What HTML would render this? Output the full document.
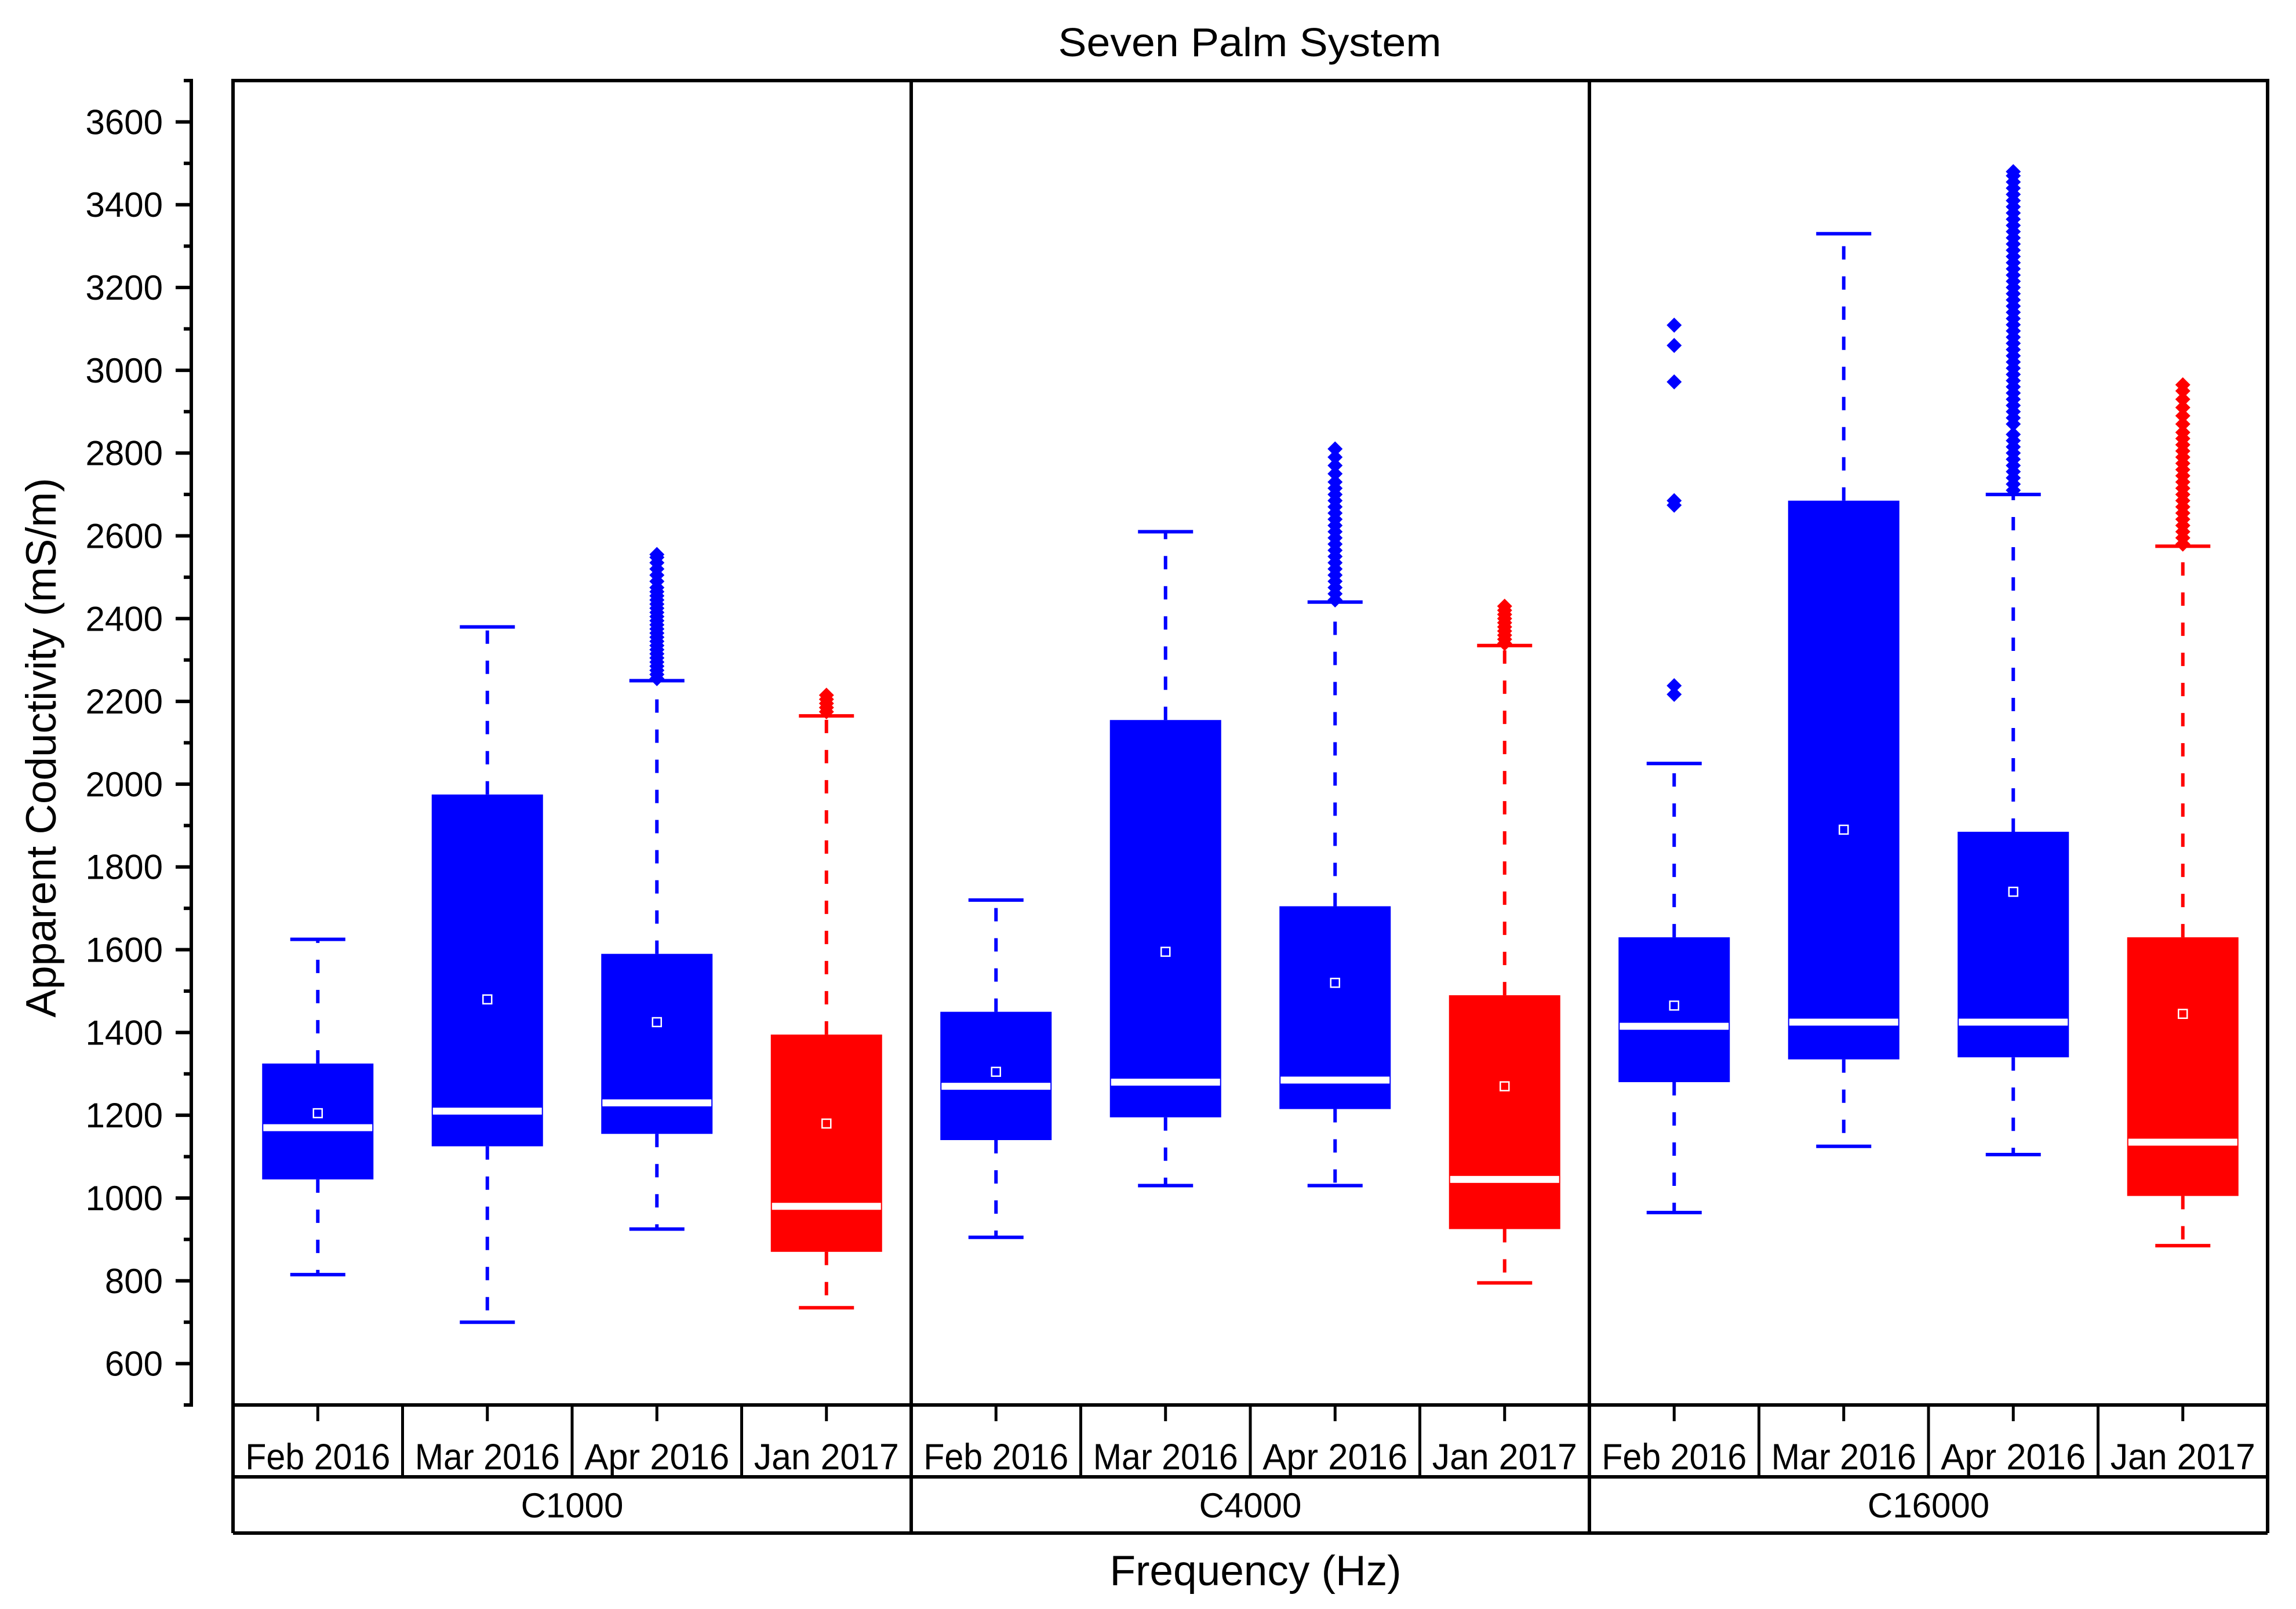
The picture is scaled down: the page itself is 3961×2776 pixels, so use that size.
<!DOCTYPE html>
<html><head><meta charset="utf-8"><title>Seven Palm System</title>
<style>html,body{margin:0;padding:0;background:#fff}svg{display:block}text{font-family:"Liberation Sans",Arial,sans-serif;fill:#000}</style>
</head><body>
<svg id="chart" width="3961" height="2776" viewBox="0 0 3961 2776" xmlns="http://www.w3.org/2000/svg">
<text x="2156" y="97" font-size="70" text-anchor="middle" textLength="661" lengthAdjust="spacingAndGlyphs">Seven Palm System</text>
<text transform="translate(96,1290) rotate(-90)" font-size="73" text-anchor="middle" textLength="931" lengthAdjust="spacingAndGlyphs">Apparent Coductivity (mS/m)</text>
<text x="2166" y="2735" font-size="73" text-anchor="middle" textLength="503" lengthAdjust="spacingAndGlyphs">Frequency (Hz)</text>
<g id="g-axis"></g><g id="g-marks"></g><g id="g-frame"></g>
</svg>
<script>
const months = ["Feb 2016","Mar 2016","Apr 2016","Jan 2017"];
const groups = ["C1000","C4000","C16000"];
const boxColors = ["blue","blue","blue","red","blue","blue","blue","red","blue","blue","blue","red"];
const whiskerLow = [815,700,925,735, 905,1030,1030,795, 965,1125,1105,885];
const q1Values   = [1045,1125,1155,870, 1140,1195,1215,925, 1280,1335,1340,1005];
const medians    = [1170,1210,1230,980, 1270,1280,1285,1045, 1415,1425,1425,1135];
const q3Values   = [1325,1975,1590,1395, 1450,2155,1705,1490, 1630,2685,1885,1630];
const whiskerHigh= [1625,2380,2250,2165, 1720,2610,2440,2335, 2050,3330,2700,2575];
const meanValues = [1205,1480,1425,1180, 1305,1595,1520,1270, 1465,1890,1740,1445];
const outliersC1000Apr = [2255,2265,2275,2285,2295,2305,2315,2325,2335,2345,2355,2365,2375,2385,2395,2405,2415,2425,2435,2445,2455,2465,2475,2490,2505,2520,2535,2548,2555];
const outliersC1000Jan = [2175,2185,2195,2205,2215];
const outliersC4000Apr = [2445,2460,2475,2490,2505,2520,2535,2550,2565,2580,2595,2610,2625,2640,2655,2670,2685,2700,2715,2730,2750,2770,2790,2810];
const outliersC4000Jan = [2340,2350,2360,2370,2380,2390,2400,2410,2420,2430];
const outliersC16000Feb = [2217,2238,2674,2685,2972,3060,3109];
const outliersC16000Apr = [2710,2725,2740,2755,2770,2785,2800,2815,2830,2845,2870,2885,2900,2915,2930,2945,2960,2975,2990,3005,3020,3035,3050,3065,3080,3095,3110,3125,3140,3155,3170,3185,3200,3215,3230,3245,3260,3275,3290,3305,3320,3335,3350,3365,3380,3395,3410,3425,3440,3455,3470,3480];
const outliersC16000Jan = [2580,2595,2610,2625,2640,2655,2670,2685,2700,2715,2730,2745,2760,2775,2790,2805,2820,2835,2850,2870,2890,2910,2930,2950,2965];
const outlierSets = [[],[],outliersC1000Apr,outliersC1000Jan,[],[],outliersC4000Apr,outliersC4000Jan,outliersC16000Feb,[],outliersC16000Apr,outliersC16000Jan];
const yTicks = [600,800,1000,1200,1400,1600,1800,2000,2200,2400,2600,2800,3000,3200,3400,3600];

const NS="http://www.w3.org/2000/svg";
const L=402,R=3912,T=139,B=2424,YMIN=500,YMAX=3700;
const nCat=months.length*groups.length, cw=(R-L)/nCat;
const y=v=>B-(v-YMIN)/(YMAX-YMIN)*(B-T);
const xc=i=>L+(i+0.5)*cw;
function mk(tag,parent,attrs){const e=document.createElementNS(NS,tag);for(const k in attrs)e.setAttribute(k,attrs[k]);parent.appendChild(e);return e;}
const gA=document.getElementById('g-axis'),gM=document.getElementById('g-marks'),gF=document.getElementById('g-frame');

let ax=mk('line',gA,{x1:330,y1:T-3,x2:330,y2:B+3,stroke:'#000','stroke-width':6});


for(let v=YMIN;v<=YMAX;v+=100){
  const major=yTicks.includes(v);
  const t=mk('line',gA,{x1:major?303:317,y1:y(v),x2:330,y2:y(v),stroke:'#000','stroke-width':6});
  
  
}
yTicks.forEach(v=>{
  const t=mk('text',gA,{x:281,y:y(v)+21,'font-size':60,'text-anchor':'end'});
  t.textContent=v;
  
  
});

for(let i=0;i<nCat;i++){
  const c=boxColors[i],x=xc(i),bw=192,cap=95;
  const g=mk('g',gM,{});
  
  
  const w1=mk('line',g,{x1:x,y1:y(q3Values[i]),x2:x,y2:y(whiskerHigh[i]),stroke:c,'stroke-width':6,'stroke-dasharray':'23 29'});
  
  
  const w2=mk('line',g,{x1:x,y1:y(q1Values[i]),x2:x,y2:y(whiskerLow[i]),stroke:c,'stroke-width':6,'stroke-dasharray':'23 29'});
  
  
  [whiskerHigh[i],whiskerLow[i]].forEach(v=>{
    const cp=mk('line',g,{x1:x-cap/2,y1:y(v),x2:x+cap/2,y2:y(v),stroke:c,'stroke-width':6});
    
    
  });
  outlierSets[i].forEach(v=>{
    const yy=y(v);
    const d=mk('polygon',g,{points:`${x},${yy-13} ${x+13},${yy} ${x},${yy+13} ${x-13},${yy}`,fill:c});
    
    
  });
  const r=mk('rect',g,{x:x-bw/2,y:y(q3Values[i]),width:bw,height:y(q1Values[i])-y(q3Values[i]),fill:c});
  
  
  const m=mk('rect',g,{x:x-bw/2+2,y:y(medians[i])-6,width:bw-4,height:12,fill:'#fff'});
  
  
  const mn=mk('rect',g,{x:x-7.5,y:y(meanValues[i])-7.5,width:15,height:15,fill:'none',stroke:'#fff','stroke-width':2.5});
  
  
}

const fr=mk('rect',gF,{x:L,y:T,width:R-L,height:B-T,fill:'none',stroke:'#000','stroke-width':6});


const R1=2548,R2=2645;
[[L,B,L,R2],[R,B,R,R2],[L,R1,R,R1],[L,R2,R,R2]].forEach(a=>{
  const l=mk('line',gF,{x1:a[0],y1:a[1],x2:a[2],y2:a[3],stroke:'#000','stroke-width':6});
  
  
});
for(let gi=1;gi<groups.length;gi++){
  const xx=L+gi*4*cw;
  const l=mk('line',gF,{x1:xx,y1:T,x2:xx,y2:R2,stroke:'#000','stroke-width':6});
  
  
}
for(let i=0;i<nCat;i++){
  if(i>0 && i%4!==0){
    const xx=L+i*cw;
    const l=mk('line',gF,{x1:xx,y1:B,x2:xx,y2:R1,stroke:'#000','stroke-width':5});
    
    
  }
  const tk=mk('line',gF,{x1:xc(i),y1:B,x2:xc(i),y2:B+28,stroke:'#000','stroke-width':5});
  
  
  const t=mk('text',gF,{x:xc(i),y:2535,'font-size':63,'text-anchor':'middle',textLength:250,lengthAdjust:'spacingAndGlyphs'});
  t.textContent=months[i%4];
  
  
}
groups.forEach((gname,gi)=>{
  const t=mk('text',gF,{x:L+(gi*4+2)*cw,y:2618,'font-size':60,'text-anchor':'middle'});
  t.textContent=gname;
  
  
});
</script>
</body></html>
